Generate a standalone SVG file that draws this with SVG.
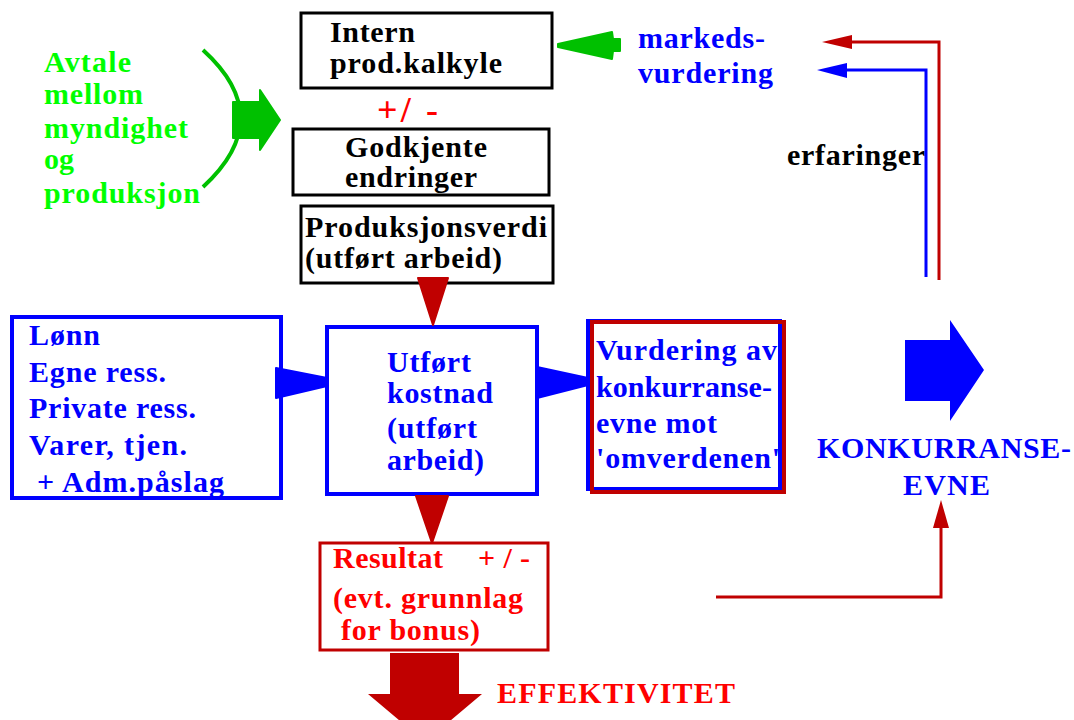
<svg xmlns="http://www.w3.org/2000/svg" width="1074" height="720" viewBox="0 0 1074 720">
<style>
text{font-family:"Liberation Serif","Times New Roman",serif;font-weight:bold;font-size:30px}
.k{fill:#000}
.g{fill:#00ff00}
.b{fill:#0000ff}
.r{fill:#ff0000}
.bk{fill:#fff;stroke:#000;stroke-width:3}
.bb{fill:#fff;stroke:#0000ff;stroke-width:4}
.br{fill:none;stroke:#c00000;stroke-width:4}
.rr{fill:#fff;stroke:#c00000;stroke-width:3}
.dr{fill:#c00000;stroke:#c00000;stroke-width:2;stroke-linejoin:round}
.db{fill:#0000ff;stroke:#0000ff;stroke-width:2;stroke-linejoin:round}
.dg{fill:#00c000;stroke:#00c000;stroke-width:2;stroke-linejoin:round}
.lr{fill:none;stroke:#c00000;stroke-width:3}
.lb{fill:none;stroke:#0000ff;stroke-width:3}
</style>
<rect width="1074" height="720" fill="#fff"/>

<g id="avtale">
<text class="g" x="44" y="72" textLength="87" lengthAdjust="spacing">Avtale</text>
<text class="g" x="44" y="104" textLength="99" lengthAdjust="spacing">mellom</text>
<text class="g" x="44" y="138" textLength="144" lengthAdjust="spacing">myndighet</text>
<text class="g" x="44" y="169" textLength="30" lengthAdjust="spacing">og</text>
<text class="g" x="44" y="203" textLength="156" lengthAdjust="spacing">produksjon</text>
<path d="M203,50 Q278,118 203,187" fill="none" stroke="#00c000" stroke-width="4"/>
<polygon class="dg" points="233,102 260,102 260,90 280,120 260,150 260,138 233,138"/>
</g>

<g id="intern">
<rect class="bk" x="301" y="13" width="251" height="75"/>
<text class="k" x="330" y="42" textLength="85" lengthAdjust="spacing">Intern</text>
<text class="k" x="330" y="73" textLength="172" lengthAdjust="spacing">prod.kalkyle</text>
</g>

<g id="plusminus">
<text class="r" x="377" y="122" style="font-size:36px" textLength="61" lengthAdjust="spacing">+/ -</text>
</g>

<g id="godkjente">
<rect class="bk" x="293" y="129" width="256" height="66"/>
<text class="k" x="345" y="157" textLength="142" lengthAdjust="spacing">Godkjente</text>
<text class="k" x="345" y="187" textLength="132" lengthAdjust="spacing">endringer</text>
</g>

<g id="produksjonsverdi">
<rect class="bk" x="301" y="206" width="252" height="77"/>
<text class="k" x="305" y="237" textLength="242" lengthAdjust="spacing">Produksjonsverdi</text>
<text class="k" x="305" y="268" textLength="197" lengthAdjust="spacing">(utført arbeid)</text>
</g>

<g id="markedsvurdering">
<text class="b" x="638" y="48" textLength="127" lengthAdjust="spacing">markeds-</text>
<text class="b" x="638" y="83" textLength="135" lengthAdjust="spacing">vurdering</text>
</g>

<g id="erfaringer">
<text class="k" x="787" y="165" textLength="138" lengthAdjust="spacing">erfaringer</text>
</g>

<g id="lonn">
<rect class="bb" x="12" y="317" width="269" height="181"/>
<text class="b" x="29" y="345" textLength="71" lengthAdjust="spacing">Lønn</text>
<text class="b" x="29" y="382" textLength="137" lengthAdjust="spacing">Egne ress.</text>
<text class="b" x="29" y="418" textLength="167" lengthAdjust="spacing">Private ress.</text>
<text class="b" x="29" y="455" textLength="158" lengthAdjust="spacing">Varer, tjen.</text>
<text class="b" x="37" y="492" textLength="187" lengthAdjust="spacing">+ Adm.påslag</text>
</g>

<g id="utfort">
<rect class="bb" x="327" y="327" width="210" height="167"/>
<text class="b" x="387" y="372" textLength="84" lengthAdjust="spacing">Utført</text>
<text class="b" x="387" y="403" textLength="106" lengthAdjust="spacing">kostnad</text>
<text class="b" x="387" y="438" textLength="90" lengthAdjust="spacing">(utført</text>
<text class="b" x="387" y="470" textLength="97" lengthAdjust="spacing">arbeid)</text>
</g>

<g id="vurdering">
<rect class="bb" x="588" y="321" width="192" height="168"/>
<rect class="br" x="592" y="322" width="192" height="170"/>
<text class="b" x="596" y="360" textLength="181" lengthAdjust="spacing">Vurdering av</text>
<text class="b" x="596" y="397" textLength="176" lengthAdjust="spacing">konkurranse-</text>
<text class="b" x="596" y="433" textLength="121" lengthAdjust="spacing">evne mot</text>
<text class="b" x="596" y="468" textLength="184" lengthAdjust="spacing">'omverdenen'</text>
</g>

<g id="konkurranseevne">
<polygon fill="#0000ff" points="905,340 950,340 950,320 984,370 950,421 950,401 905,401"/>
<text class="b" x="817" y="458" textLength="254" lengthAdjust="spacing">KONKURRANSE-</text>
<text class="b" x="903" y="495" textLength="87" lengthAdjust="spacing">EVNE</text>
</g>

<g id="resultat">
<rect class="rr" x="320" y="543" width="228" height="107"/>
<text class="r" x="333" y="568" textLength="110" lengthAdjust="spacing">Resultat</text>
<text class="r" x="478" y="568" textLength="52" lengthAdjust="spacing">+ / -</text>
<text class="r" x="333" y="608" textLength="190" lengthAdjust="spacing">(evt. grunnlag</text>
<text class="r" x="341" y="640" textLength="139" lengthAdjust="spacing">for bonus)</text>
</g>

<g id="effektivitet">
<polygon fill="#c00000" points="390,653 459,653 459,694 482,694 425,742 368,694 390,694"/>
<text class="r" x="497" y="703" textLength="238" lengthAdjust="spacing">EFFEKTIVITET</text>
</g>

<g id="connectors">
<polygon class="dg" points="558,44 612,32 613,39 620,39 620,51 613,51 612,59 558,47"/>
<polygon class="dr" points="418,278 448,278 433,325"/>
<polygon class="dr" points="416,496 448,496 432,543"/>
<polygon class="db" points="276,368 327,378 327,386 276,398"/>
<polygon class="db" points="537,367 588,378 588,385 537,398"/>
<polyline class="lr" points="939,280 939,42 850,42"/>
<polygon fill="#c00000" points="822,42 852,35 852,49"/>
<polyline class="lb" points="926,277 926,70 845,70"/>
<polygon fill="#0000ff" points="817,70 847,63 847,78"/>
<polyline class="lr" points="716,597 941,597 941,526"/>
<polygon fill="#c00000" points="941,500 933,528 949,528"/>
</g>
</svg>
